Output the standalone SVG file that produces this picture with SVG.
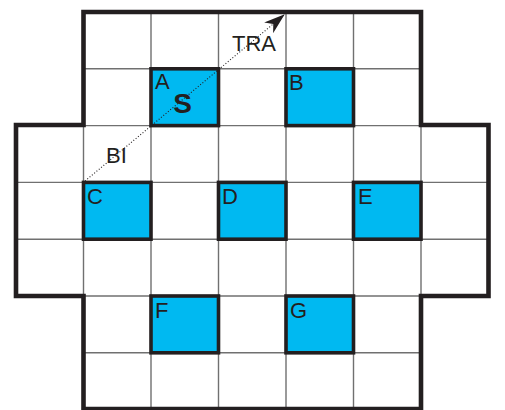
<svg xmlns="http://www.w3.org/2000/svg" width="505" height="410" viewBox="0 0 505 410">
<defs>
<style>
.grid{stroke:#707070;stroke-width:1.4;fill:none}
.cell{fill:#00b9f1;stroke:#231f20;stroke-width:3.6}
.outline{fill:none;stroke:#231f20;stroke-width:4.6;stroke-linejoin:miter}
.lbl{font-family:"Liberation Sans",Arial,sans-serif;font-size:22px;fill:#231f20}
.big{font-family:"Liberation Sans",Arial,sans-serif;font-size:28px;font-weight:bold;fill:#231f20}
.dot{stroke:#231f20;stroke-width:1.1;stroke-dasharray:1 2;fill:none}
</style>
<marker id="arr" viewBox="0 0 21 14" refX="20" refY="7" markerWidth="21" markerHeight="14" markerUnits="userSpaceOnUse" orient="auto">
<path d="M0,0 L21,7 L0,14 L6,7 Z" fill="#231f20"/>
</marker>
</defs>
<rect width="505" height="410" fill="#fff"/>
<g id="grid">
<path class="grid" d="M151,12V409 M218.5,12V409 M286,12V409 M353.5,12V409 M83.5,125V296 M421,125V296 M83.5,68.8H421 M83.5,352.8H421 M16,182.4H488.5 M16,239.2H488.5 M16,125.6H488.5 M16,296H488.5"/>
</g>
<g id="A"><rect class="cell" x="151" y="68.8" width="67.5" height="56.8"/><text class="lbl" x="155" y="89">A</text></g>
<g id="B"><rect class="cell" x="286" y="68.8" width="67.5" height="56.8"/><text class="lbl" x="289" y="90">B</text></g>
<g id="C"><rect class="cell" x="83.5" y="182.4" width="67.5" height="56.8"/><text class="lbl" x="87" y="204">C</text></g>
<g id="D"><rect class="cell" x="218.5" y="182.4" width="67.5" height="56.8"/><text class="lbl" x="222" y="204">D</text></g>
<g id="E"><rect class="cell" x="353.5" y="182.4" width="67.5" height="56.8"/><text class="lbl" x="358" y="204">E</text></g>
<g id="F"><rect class="cell" x="151" y="296" width="67.5" height="56.8"/><text class="lbl" x="155" y="318">F</text></g>
<g id="G"><rect class="cell" x="286" y="296" width="67.5" height="56.8"/><text class="lbl" x="290" y="318">G</text></g>
<g id="outline">
<path class="outline" d="M83.5,12H421V125H488.5V296H421V409H83.5V296H16V125H83.5Z"/>
</g>
<g id="connectors">
<path class="dot" d="M85,181L284,15" marker-end="url(#arr)"/>
<text class="lbl" x="232" y="51">TRA</text>
<text class="lbl" x="106" y="163">BI</text>
</g>
<text class="big" x="182.5" y="113" text-anchor="middle">S</text>
</svg>
